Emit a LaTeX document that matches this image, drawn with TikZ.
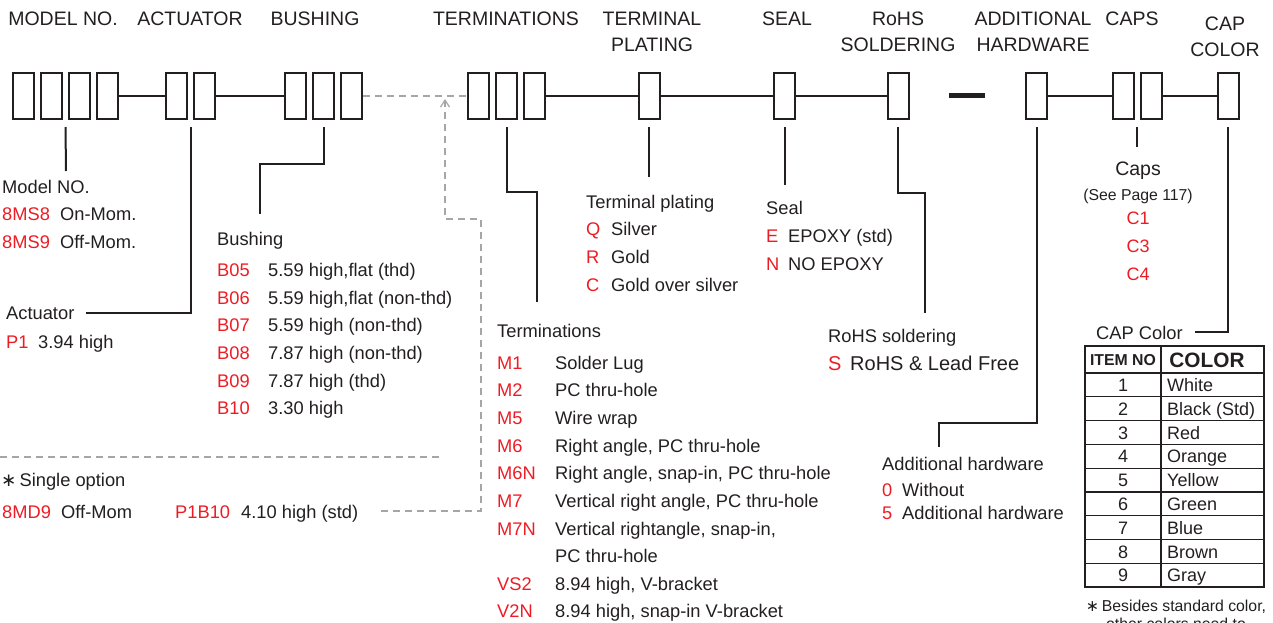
\documentclass[tikz,border=0pt]{standalone}
\usepackage{fontspec}
\setmainfont{Liberation Sans}
\newfontfamily\astfont{DejaVu Sans}
\usetikzlibrary{arrows.meta,calc}
\definecolor{ink}{HTML}{231F20}
\definecolor{codered}{HTML}{ED1C24}
\definecolor{optgray}{HTML}{A6A6A6}
\newcommand{\astmark}{{\astfont ∗}}
\tikzset{
    hd/.style={inner sep=0pt, anchor=base, text=ink, font=\fontsize{19.5}{23}\selectfont},
    tx/.style={inner sep=0pt, anchor=base west, text=ink, font=\fontsize{18.3}{22}\selectfont},
    code/.style={tx, text=codered},
    small/.style={tx, font=\fontsize{15.8}{19}\selectfont},
    cell/.style={inner sep=0pt, anchor=base, text=ink, font=\fontsize{18}{22}\selectfont},
    bx/.style={draw=ink, line width=2pt, minimum width=21pt, minimum height=46pt, inner sep=0pt},
    link/.style={draw=ink, line width=2pt},
    lead/.style={draw=ink, line width=2pt},
    opt/.style={draw=optgray, line width=1.3pt, dash pattern=on 7pt off 5pt},
}

\begin{document}
\begin{tikzpicture}[x=1pt,y=-1pt]
\useasboundingbox (0,0) rectangle (1273,623);

\node[hd] (hMod) at (63,26) {MODEL NO.};
\node[hd] (hAct) at (190,26) {ACTUATOR};
\node[hd] (hBus) at (315,26) {BUSHING};
\node[hd] (hTer) at (506,26) {TERMINATIONS};
\node[hd] (hPla) at (652,26) {TERMINAL};
\node[hd] (hPla2) at (652,52) {PLATING};
\node[hd] (hSea) at (787,26) {SEAL};
\node[hd] (hRoh) at (898,26) {RoHS};
\node[hd] (hRoh2) at (898,52) {SOLDERING};
\node[hd] (hHw) at (1033,26) {ADDITIONAL};
\node[hd] (hHw2) at (1033,52) {HARDWARE};
\node[hd] (hCap) at (1132,26) {CAPS};
\node[hd] (hCol) at (1225,31) {CAP};
\node[hd] (hCol2) at (1225,57) {COLOR};

\node[bx] (mod1) at (23.5,96) {};
\node[bx] (mod2) at (51.5,96) {};
\node[bx] (mod3) at (79.5,96) {};
\node[bx] (mod4) at (107.5,96) {};
\node[bx] (act1) at (176.5,96) {};
\node[bx] (act2) at (204.5,96) {};
\node[bx] (bus1) at (295.5,96) {};
\node[bx] (bus2) at (323.5,96) {};
\node[bx] (bus3) at (351.5,96) {};
\node[bx] (ter1) at (478.5,96) {};
\node[bx] (ter2) at (506.5,96) {};
\node[bx] (ter3) at (534.5,96) {};
\node[bx] (pla) at (649,96) {};
\node[bx] (sea) at (784.5,96) {};
\node[bx] (roh) at (898,96) {};
\node[bx] (hw) at (1036.5,96) {};
\node[bx] (cap1) at (1123,96) {};
\node[bx] (cap2) at (1151,96) {};
\node[bx] (col) at (1228,96) {};

\draw[link] (mod4) -- (act1);
\draw[link] (act2) -- (bus1);
\draw[opt] (bus3) -- (ter1);
\draw[link] (ter3) -- (pla);
\draw[link] (pla) -- (sea);
\draw[link] (sea) -- (roh);
\draw[link] (hw) -- (cap1);
\draw[link] (cap2) -- (col);
\coordinate (dashL) at (949,96);
\coordinate (dashR) at (985,96);
\draw[ink, line width=5pt] (dashL) -- (dashR);

\coordinate (tMod) at ($(mod2.south)!.5!(mod3.south)+(0,7)$);
\coordinate (tAct) at ($(act1.south)!.5!(act2.south)+(0,7)$);
\coordinate (tBus) at ($(bus2.south)+(0,7)$);
\coordinate (tTer) at ($(ter2.south)+(0,7)$);
\coordinate (tPla) at ($(pla.south)+(0,7)$);
\coordinate (tSea) at ($(sea.south)+(0,7)$);
\coordinate (tRoh) at ($(roh.south)+(0,7)$);
\coordinate (tHw) at ($(hw.south)+(0,7)$);
\coordinate (tCap) at ($(cap1.south)!.5!(cap2.south)+(0,7)$);
\coordinate (tCol) at ($(col.south)+(0,7)$);

\coordinate (eMod) at (66,171);
\coordinate (eAct) at (86,313);
\coordinate (eBus) at (260,214);
\coordinate (eTer) at (537,302);
\coordinate (ePla) at (649,177);
\coordinate (eSea) at (784.5,185);
\coordinate (eRoh) at (925,313);
\coordinate (eHw) at (939,447);
\coordinate (eCap) at (1137,147);
\coordinate (eCol) at (1195,332);

\draw[lead] (tMod) -- (eMod);
\draw[lead] (tAct) |- (eAct);
\draw[lead] (tBus) -- ++(0,37) -| (eBus);
\draw[lead] (tTer) -- ++(0,65) -| (eTer);
\draw[lead] (tPla) -- (ePla);
\draw[lead] (tSea) -- (eSea);
\draw[lead] (tRoh) -- ++(0,66) -| (eRoh);
\draw[lead] (tHw) -- ++(0,296) -| (eHw);
\draw[lead] (tCap) -- (eCap);
\draw[lead] (tCol) |- (eCol);

\node[tx] (lMod) at (2,193) {Model NO.};
\node[code] (ms8) at (2,220) {8MS8};
\node[tx] (ms8d) at (60,220) {On-Mom.};
\node[code] (ms9) at (2,248) {8MS9};
\node[tx] (ms9d) at (60,248) {Off-Mom.};

\node[tx] (lAct) at (6,319) {Actuator};
\node[code] (p1) at (6,348) {P1};
\node[tx] (p1d) at (38,348) {3.94 high};

\node[tx] (lBus) at (217,245) {Bushing};
\node[code] (b05) at (217,276) {B05};
\node[tx] (b05d) at (268,276) {5.59 high,flat (thd)};
\node[code] (b06) at (217,304) {B06};
\node[tx] (b06d) at (268,304) {5.59 high,flat (non-thd)};
\node[code] (b07) at (217,331) {B07};
\node[tx] (b07d) at (268,331) {5.59 high (non-thd)};
\node[code] (b08) at (217,359) {B08};
\node[tx] (b08d) at (268,359) {7.87 high (non-thd)};
\node[code] (b09) at (217,387) {B09};
\node[tx] (b09d) at (268,387) {7.87 high (thd)};
\node[code] (b10) at (217,414) {B10};
\node[tx] (b10d) at (268,414) {3.30 high};

\coordinate (sSep) at (0,457);
\coordinate (eSep) at (442,457);
\draw[opt] (sSep) -- (eSep);
\node[tx] (lOpt) at (1,486) {\astmark\,Single option};
\node[code] (md9) at (2,518) {8MD9};
\node[tx] (md9d) at (61,518) {Off-Mom};
\node[code] (p1b) at (175,518) {P1B10};
\node[tx] (p1bd) at (241,518) {4.10 high (std)};
\coordinate (sOpt) at (381,511);
\coordinate (aOpt) at (445,99);
\draw[opt, -{Straight Barb[length=7pt,width=9pt,line width=1.2pt]}] (sOpt) -| ++(100,-292) -| (aOpt);

\node[tx] (lPla) at (586,208) {Terminal plating};
\node[code] (q) at (586,235) {Q};
\node[tx] (qd) at (611,235) {Silver};
\node[code] (r) at (586,263) {R};
\node[tx] (rd) at (611,263) {Gold};
\node[code] (c) at (586,291) {C};
\node[tx] (cd) at (611,291) {Gold over silver};

\node[tx] (lSea) at (766,214) {Seal};
\node[code] (e) at (766,242) {E};
\node[tx] (ed) at (788,242) {EPOXY (std)};
\node[code] (n) at (766,270) {N};
\node[tx] (nd) at (788,270) {NO EPOXY};

\node[tx] (lTer) at (497,337) {Terminations};
\node[code] (m1) at (497,369) {M1};
\node[tx] (m1d) at (555,369) {Solder Lug};
\node[code] (m2) at (497,396) {M2};
\node[tx] (m2d) at (555,396) {PC thru-hole};
\node[code] (m5) at (497,424) {M5};
\node[tx] (m5d) at (555,424) {Wire wrap};
\node[code] (m6) at (497,452) {M6};
\node[tx] (m6d) at (555,452) {Right angle, PC thru-hole};
\node[code] (m6n) at (497,479) {M6N};
\node[tx] (m6nd) at (555,479) {Right angle, snap-in, PC thru-hole};
\node[code] (m7) at (497,507) {M7};
\node[tx] (m7d) at (555,507) {Vertical right angle, PC thru-hole};
\node[code] (m7n) at (497,535) {M7N};
\node[tx] (m7nd) at (555,535) {Vertical rightangle, snap-in,};
\node[tx] (m7ne) at (555,562) {PC thru-hole};
\node[code] (vs2) at (497,590) {VS2};
\node[tx] (vs2d) at (555,590) {8.94 high, V-bracket};
\node[code] (v2n) at (497,617) {V2N};
\node[tx] (v2nd) at (555,617) {8.94 high, snap-in V-bracket};

\node[tx] (lRoh) at (828,342) {RoHS soldering};
\node[code, font=\fontsize{20}{24}\selectfont] (s) at (828,370) {S};
\node[tx, font=\fontsize{20}{24}\selectfont] (sd) at (850,370) {RoHS \& Lead Free};

\node[tx] (lHw) at (882,470) {Additional hardware};
\node[code] (h0) at (882,496) {0};
\node[tx] (h0d) at (902,496) {Without};
\node[code] (h5) at (882,519) {5};
\node[tx] (h5d) at (902,519) {Additional hardware};

\node[hd] (lCap) at (1138,175) {Caps};
\node[small, anchor=base] (lCap2) at (1138,200) {(See Page 117)};
\node[code, anchor=base, font=\fontsize{18}{22}\selectfont] (c1) at (1138,224) {C1};
\node[code, anchor=base, font=\fontsize{18}{22}\selectfont] (c3) at (1138,252) {C3};
\node[code, anchor=base, font=\fontsize{18}{22}\selectfont] (c4) at (1138,280) {C4};

\node[tx] (lCol) at (1096,339) {CAP Color};
\draw[ink, line width=2pt] (1085,346) rectangle (1264,587);
\draw[ink, line width=1.3pt] (1161,346) -- (1161,587);
\foreach \k in {0,...,8}
    \draw[ink, line width=1.3pt] (1085,{373+23.8*\k}) -- (1264,{373+23.8*\k});
\node[cell, font=\fontsize{15.8}{19}\bfseries] (hItem) at (1123,365) {ITEM NO};
\node[cell, font=\fontsize{20.8}{24}\bfseries] (hColor) at (1207,367) {COLOR};
\foreach \n/\cname in {1/White,2/Black (Std),3/Red,4/Orange,5/Yellow,6/Green,7/Blue,8/Brown,9/Gray} {
    \node[cell] (num\n) at (1123,{373+23.8*\n-5.4}) {\n};
    \node[cell, anchor=base west] (clr\n) at (1167,{373+23.8*\n-5.4}) {\cname};
}
\node[small, anchor=base] (note1) at (1176,611) {\astmark\,Besides standard color,};
\node[small, anchor=base] (note2) at (1176,629) {other colors need to};

\end{tikzpicture}
\end{document}
